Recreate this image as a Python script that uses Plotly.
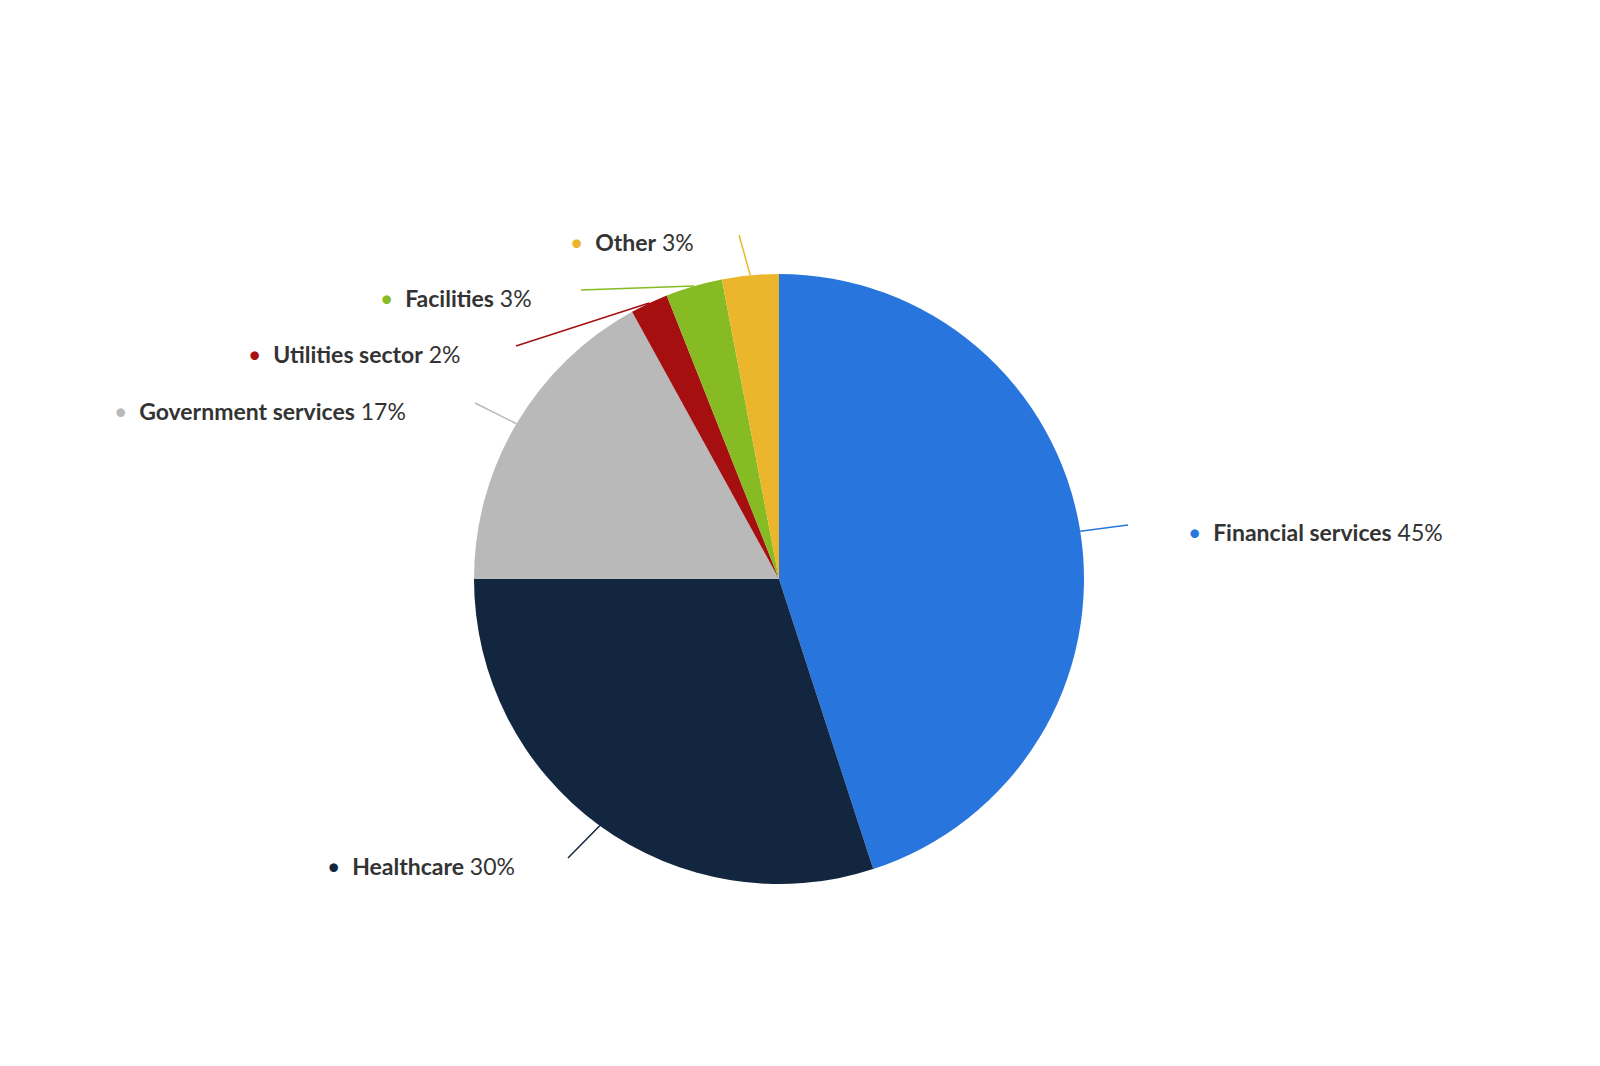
import plotly.graph_objects as go
import math

labels = ["Financial services", "Healthcare", "Government services", "Utilities sector", "Facilities", "Other"]
values = [45, 30, 17, 2, 3, 3]
colors = ["#2876dd", "#13263f", "#b9b9b9", "#a50f0f", "#86bb23", "#ebb62b"]

W, H = 1600, 1066
cx, cy, R = 771, 571, 305
# label dot positions and leader line end points (pixels, from top-left)
label_pos = [(1178, 524), (317, 858), (104, 403), (238, 346), (370, 290), (560, 234)]
line_end = [(1120, 517), (560, 850), (467, 395), (508, 338), (573, 282), (731, 227)]

def px(x): return x / W
def py(y): return 1 - y / H

fig = go.Figure(go.Pie(
    labels=labels, values=values, sort=False, direction="clockwise", rotation=0,
    marker=dict(colors=colors, line=dict(width=0)), textinfo="none", hoverinfo="label+percent",
    domain=dict(x=[px(cx - R), px(cx + R)], y=[py(cy + R), py(cy - R)]), showlegend=False))

total = sum(values)
cum = 0
shapes, anns = [], []
for lab, v, c, lp, le in zip(labels, values, colors, label_pos, line_end):
    mid = (cum + v / 2) / total * 2 * math.pi
    cum += v
    ex, ey = cx + R * math.sin(mid), cy - R * math.cos(mid)
    shapes.append(dict(type="line", xref="paper", yref="paper", x0=px(ex), y0=py(ey),
                       x1=px(le[0]), y1=py(le[1]), line=dict(color=c, width=1.5)))
    anns.append(dict(xref="paper", yref="paper", x=px(lp[0]), y=py(lp[1]), xanchor="left", yanchor="middle",
                     showarrow=False,
                     text=f"<span style='color:{c}'>•</span>  <b>{lab}</b> {v}%",
                     font=dict(family="Lato, Open Sans, sans-serif", size=23, color="#333333")))

fig.update_layout(width=W, height=H, margin=dict(l=0, r=0, t=0, b=0), paper_bgcolor="white",
                  shapes=shapes, annotations=anns)
fig.write_html("out.html")
